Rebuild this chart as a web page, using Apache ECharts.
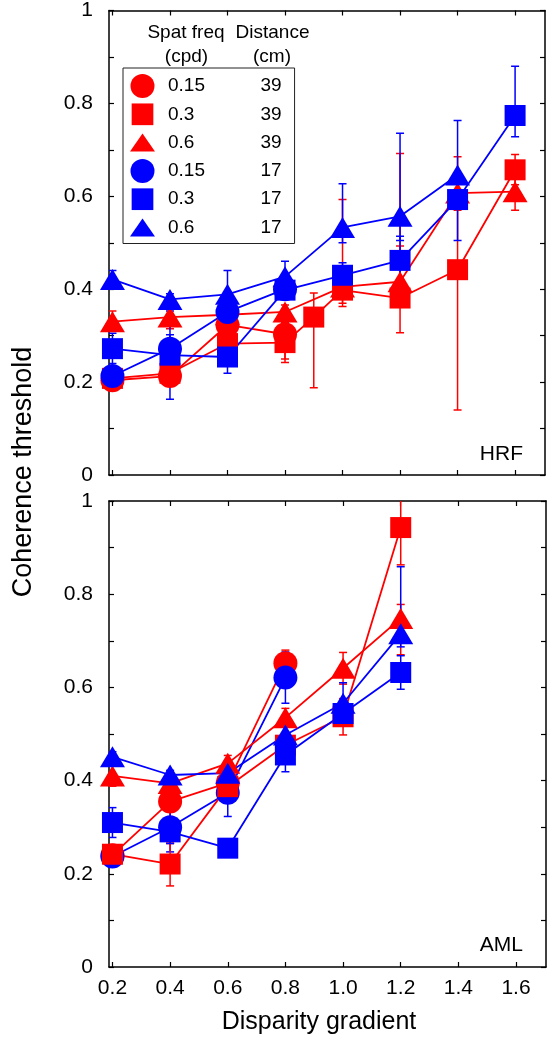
<!DOCTYPE html>
<html>
<head>
<meta charset="utf-8">
<script src="https://cdn.jsdelivr.net/npm/echarts@6/dist/echarts.min.js"></script>
<style>
html,body{margin:0;padding:0;background:#fff;}
#chart{width:557px;height:1050px;}
</style>
</head>
<body>
<div id="chart"></div>
<script>
// ---------- labels ----------
const spatFreq = ['0.15', '0.3', '0.6', '0.15', '0.3', '0.6'];
const distance = ['39', '39', '39', '17', '17', '17'];
const xTicks = [0.2, 0.4, 0.6, 0.8, 1.0, 1.2, 1.4, 1.6];
const panelNames = ['HRF', 'AML'];

// ---------- HRF (top panel) ----------
// red = 39 cm, blue = 17 cm; circle 0.15, square 0.3, triangle 0.6 cpd
const hrfRedCircleX  = [0.2, 0.4, 0.6, 0.8];
const hrfRedCircleY  = [0.204, 0.213, 0.323, 0.303];
const hrfRedCircleLo = [0.190, 0.198, 0.305, 0.250];
const hrfRedCircleHi = [0.218, 0.228, 0.341, 0.356];

const hrfRedSquareX  = [0.2, 0.4, 0.6, 0.8, 0.9, 1.0, 1.2, 1.4, 1.6];
const hrfRedSquareY  = [0.208, 0.219, 0.283, 0.285, 0.340, 0.398, 0.381, 0.442, 0.657];
const hrfRedSquareLo = [0.195, 0.205, 0.270, 0.242, 0.188, 0.363, 0.306, 0.140, 0.625];
const hrfRedSquareHi = [0.221, 0.233, 0.296, 0.328, 0.392, 0.433, 0.493, 0.685, 0.690];

const hrfRedTriX  = [0.2, 0.4, 0.6, 0.8, 1.0, 1.2, 1.4, 1.6];
const hrfRedTriY  = [0.330, 0.340, 0.345, 0.351, 0.405, 0.416, 0.607, 0.610];
const hrfRedTriLo = [0.310, 0.315, 0.325, 0.330, 0.370, 0.390, 0.570, 0.570];
const hrfRedTriHi = [0.353, 0.365, 0.360, 0.366, 0.593, 0.692, 0.650, 0.640];

const hrfBlueCircleX  = [0.2, 0.4, 0.6, 0.8];
const hrfBlueCircleY  = [0.213, 0.272, 0.351, 0.400];
const hrfBlueCircleLo = [0.200, 0.242, 0.335, 0.385];
const hrfBlueCircleHi = [0.226, 0.302, 0.367, 0.415];

const hrfBlueSquareX  = [0.2, 0.4, 0.6, 0.8, 1.0, 1.2, 1.4, 1.6];
const hrfBlueSquareY  = [0.272, 0.258, 0.254, 0.398, 0.430, 0.462, 0.593, 0.774];
const hrfBlueSquareLo = [0.240, 0.163, 0.219, 0.385, 0.403, 0.420, 0.505, 0.728];
const hrfBlueSquareHi = [0.305, 0.353, 0.289, 0.415, 0.457, 0.514, 0.630, 0.880];

const hrfBlueTriX  = [0.2, 0.4, 0.6, 0.8, 1.0, 1.2, 1.4];
const hrfBlueTriY  = [0.421, 0.378, 0.389, 0.427, 0.533, 0.557, 0.646];
const hrfBlueTriLo = [0.405, 0.365, 0.370, 0.410, 0.500, 0.505, 0.600];
const hrfBlueTriHi = [0.440, 0.390, 0.440, 0.460, 0.627, 0.736, 0.763];

// ---------- AML (bottom panel) ----------
const amlRedCircleX  = [0.2, 0.4, 0.6, 0.8];
const amlRedCircleY  = [0.240, 0.355, 0.395, 0.652];
const amlRedCircleLo = [0.225, 0.266, 0.378, 0.630];
const amlRedCircleHi = [0.255, 0.385, 0.410, 0.680];

const amlRedSquareX  = [0.2, 0.4, 0.6, 0.8, 1.0, 1.2];
const amlRedSquareY  = [0.242, 0.221, 0.387, 0.476, 0.537, 0.943];
const amlRedSquareLo = [0.228, 0.174, 0.370, 0.455, 0.498, 0.863];
const amlRedSquareHi = [0.256, 0.265, 0.404, 0.497, 0.576, 1.023];

const amlRedTriX  = [0.2, 0.4, 0.6, 0.8, 1.0, 1.2];
const amlRedTriY  = [0.410, 0.394, 0.437, 0.535, 0.641, 0.748];
const amlRedTriLo = [0.388, 0.380, 0.420, 0.515, 0.607, 0.670];
const amlRedTriHi = [0.432, 0.408, 0.454, 0.555, 0.675, 0.778];

const amlBlueCircleX  = [0.2, 0.4, 0.6, 0.8];
const amlBlueCircleY  = [0.237, 0.300, 0.374, 0.621];
const amlBlueCircleLo = [0.225, 0.247, 0.323, 0.566];
const amlBlueCircleHi = [0.249, 0.353, 0.425, 0.676];

const amlBlueSquareX  = [0.2, 0.4, 0.6, 0.8, 1.0, 1.2];
const amlBlueSquareY  = [0.310, 0.290, 0.255, 0.455, 0.544, 0.632];
const amlBlueSquareLo = [0.278, 0.265, 0.245, 0.419, 0.519, 0.596];
const amlBlueSquareHi = [0.342, 0.315, 0.265, 0.491, 0.569, 0.668];

const amlBlueTriX  = [0.2, 0.4, 0.6, 0.8, 1.0, 1.2];
const amlBlueTriY  = [0.451, 0.412, 0.416, 0.498, 0.566, 0.715];
const amlBlueTriLo = [0.440, 0.402, 0.406, 0.480, 0.520, 0.687];
const amlBlueTriHi = [0.462, 0.422, 0.426, 0.516, 0.610, 0.859];

// ---------- build ----------
const FONT = "'Liberation Sans', Arial, Helvetica, sans-serif";
const RED = '#ff0000', BLUE = '#0000ff';
const styleList = [
  {color: RED, symbol: 'circle', size: 24},
  {color: RED, symbol: 'rect', size: 21},
  {color: RED, symbol: 'triangle', size: [25, 21]},
  {color: BLUE, symbol: 'circle', size: 24},
  {color: BLUE, symbol: 'rect', size: 21},
  {color: BLUE, symbol: 'triangle', size: [25, 21]}
];
const seriesNames = spatFreq.map((s, i) => s + '|' + distance[i]);
// drawing order (later = on top) for each panel
const drawOrder = [[0, 1, 2, 3, 4, 5], [0, 3, 1, 2, 4, 5]];

const panels = [
  [
    [hrfRedCircleX, hrfRedCircleY, hrfRedCircleLo, hrfRedCircleHi],
    [hrfRedSquareX, hrfRedSquareY, hrfRedSquareLo, hrfRedSquareHi],
    [hrfRedTriX, hrfRedTriY, hrfRedTriLo, hrfRedTriHi],
    [hrfBlueCircleX, hrfBlueCircleY, hrfBlueCircleLo, hrfBlueCircleHi],
    [hrfBlueSquareX, hrfBlueSquareY, hrfBlueSquareLo, hrfBlueSquareHi],
    [hrfBlueTriX, hrfBlueTriY, hrfBlueTriLo, hrfBlueTriHi]
  ],
  [
    [amlRedCircleX, amlRedCircleY, amlRedCircleLo, amlRedCircleHi],
    [amlRedSquareX, amlRedSquareY, amlRedSquareLo, amlRedSquareHi],
    [amlRedTriX, amlRedTriY, amlRedTriLo, amlRedTriHi],
    [amlBlueCircleX, amlBlueCircleY, amlBlueCircleLo, amlBlueCircleHi],
    [amlBlueSquareX, amlBlueSquareY, amlBlueSquareLo, amlBlueSquareHi],
    [amlBlueTriX, amlBlueTriY, amlBlueTriLo, amlBlueTriHi]
  ]
];

const X_MIN = 0.188, X_MAX = 1.704;
const axisLineStyle = {color: '#000', width: 1.5};
const tickStyle = {color: '#000', width: 1.2};

const grids = [
  {left: 109, top: 10, width: 436, height: 465},
  {left: 109, top: 501, width: 437, height: 466}
];

const xAxes = [], yAxes = [];
grids.forEach((g, gi) => {
  ['bottom', 'top'].forEach(pos => {
    xAxes.push({
      type: 'value', gridIndex: gi, position: pos, min: X_MIN, max: X_MAX,
      axisLine: {show: true, onZero: false, lineStyle: axisLineStyle},
      axisTick: {show: true, inside: true, length: 5, lineStyle: tickStyle, customValues: xTicks},
      axisLabel: {
        show: gi === 1 && pos === 'bottom', customValues: xTicks,
        formatter: v => v.toFixed(1), fontSize: 21, color: '#000', fontFamily: FONT, margin: 11
      },
      splitLine: {show: false}
    });
  });
  ['left', 'right'].forEach(pos => {
    yAxes.push({
      type: 'value', gridIndex: gi, position: pos, min: 0, max: 1, interval: 0.1,
      axisLine: {show: true, onZero: false, lineStyle: axisLineStyle},
      axisTick: {show: true, inside: true, length: 5, lineStyle: tickStyle},
      axisLabel: {
        show: pos === 'left',
        formatter: v => { const t = Math.round(v * 10); return t % 2 === 0 ? String(t / 10) : ''; },
        fontSize: 21, color: '#000', fontFamily: FONT, margin: 16
      },
      splitLine: {show: false}
    });
  });
});

const series = [];
panels.forEach((panel, pi) => {
  drawOrder[pi].forEach(si => {
    const [xs, ys, lo, hi] = panel[si];
    const st = styleList[si];
    series.push({
      type: 'custom', xAxisIndex: pi * 2, yAxisIndex: pi * 2, z: 1, clip: true,
      data: xs.map((x, k) => [x, lo[k], hi[k]]),
      encode: {x: 0, y: [1, 2]},
      renderItem: (params, api) => {
        const x = api.value(0);
        const pLo = api.coord([x, api.value(1)]);
        const pHi = api.coord([x, api.value(2)]);
        const cw = 4;
        const s = {stroke: st.color, lineWidth: 1.5};
        return {type: 'group', children: [
          {type: 'line', shape: {x1: pLo[0], y1: pLo[1], x2: pHi[0], y2: pHi[1]}, style: s},
          {type: 'line', shape: {x1: pLo[0] - cw, y1: pLo[1], x2: pLo[0] + cw, y2: pLo[1]}, style: s},
          {type: 'line', shape: {x1: pHi[0] - cw, y1: pHi[1], x2: pHi[0] + cw, y2: pHi[1]}, style: s}
        ]};
      },
      silent: true
    });
  });
  drawOrder[pi].forEach(si => {
    const [xs, ys] = panel[si];
    const st = styleList[si];
    series.push({
      type: 'line', name: seriesNames[si], xAxisIndex: pi * 2, yAxisIndex: pi * 2, z: 2,
      data: xs.map((x, k) => [x, ys[k]]),
      symbol: st.symbol, symbolSize: st.size, showAllSymbol: true,
      itemStyle: {color: st.color, borderWidth: 0},
      lineStyle: {color: st.color, width: 1.8},
      emphasis: {disabled: true}
    });
  });
});

const legendIcons = [
  'circle',
  'path://M0,0M1.15,1.15L22.85,1.15L22.85,22.85L1.15,22.85ZM24,24',
  'path://M0,0M12.5,3L25,21L0,21ZM25,24',
  'circle',
  'path://M0,0M1.15,1.15L22.85,1.15L22.85,22.85L1.15,22.85ZM24,24',
  'path://M0,0M12.5,3L25,21L0,21ZM25,24'
];

const txt = (text, x, y, size, align, extra) => Object.assign({
  type: 'text', x: x, y: y,
  style: {text: text, font: size + 'px ' + FONT, fill: '#000', align: align, verticalAlign: 'middle', textAlign: align, textVerticalAlign: 'middle'}
}, extra || {});

const option = {
  animation: false,
  backgroundColor: '#fff',
  grid: grids,
  xAxis: xAxes,
  yAxis: yAxes,
  legend: {
    orient: 'vertical', left: 123, top: 68, selectedMode: false,
    itemWidth: 25, itemHeight: 24, itemGap: 4.3,
    padding: [6, 13, 4, 7],
    borderColor: '#222', borderWidth: 1, backgroundColor: '#fff',
    data: seriesNames.map((n, i) => ({name: n, icon: legendIcons[i]})),
    formatter: n => { const p = n.split('|'); return '{p| }{a|' + p[0] + '}{b|' + p[1] + '}'; },
    textStyle: {
      fontSize: 19, color: '#000', fontFamily: FONT,
      rich: {
        p: {width: 8, fontSize: 19, fontFamily: FONT},
        a: {width: 88, fontSize: 19, color: '#000', fontFamily: FONT},
        b: {width: 30, align: 'center', fontSize: 19, color: '#000', fontFamily: FONT}
      }
    }
  },
  graphic: [
    txt('Spat freq', 186, 33, 19, 'center'),
    txt('(cpd)', 186.5, 56.5, 19, 'center'),
    txt('Distance', 272.5, 33, 19, 'center'),
    txt('(cm)', 272, 56.5, 19, 'center'),
    txt(panelNames[0], 523, 454, 21, 'right'),
    txt(panelNames[1], 523, 945, 21, 'right'),
    txt('Disparity gradient', 319, 1022, 25, 'center'),
    txt('Coherence threshold', 24, 472, 27, 'center', {rotation: Math.PI / 2})
  ],
  series: series
};

const chart = echarts.init(document.getElementById('chart'), null, {renderer: 'canvas'});
chart.setOption(option);
</script>
</body>
</html>
